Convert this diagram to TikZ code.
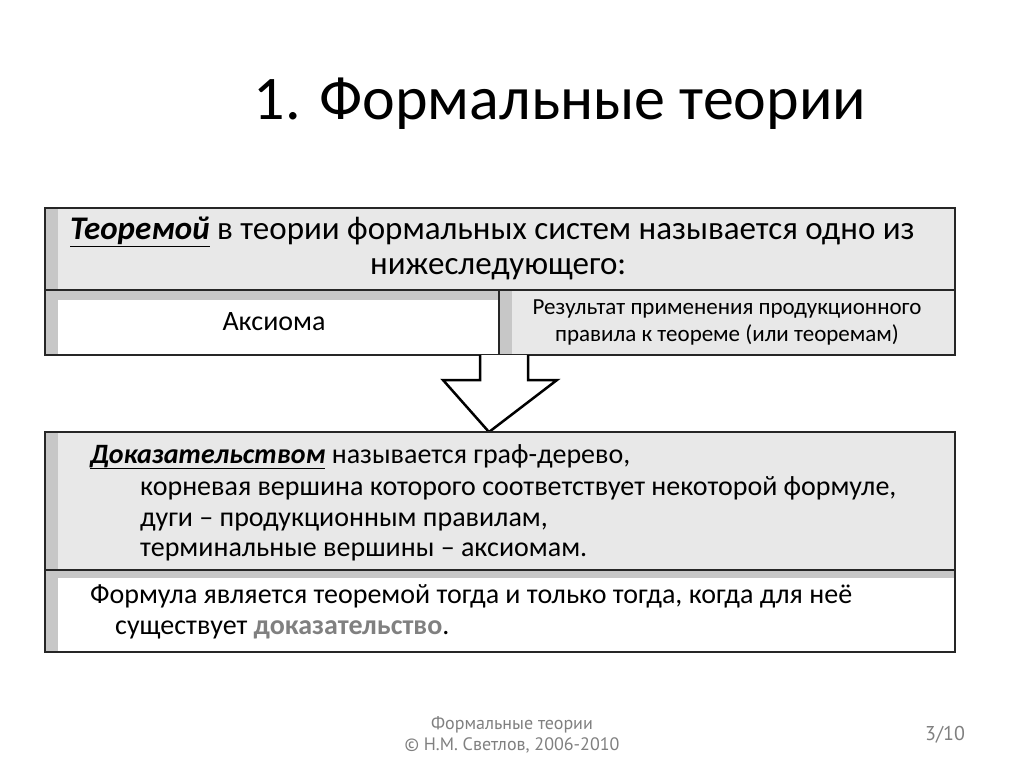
\documentclass[tikz,border=0pt]{standalone}
\usepackage{fontspec}
\setmainfont{Carlito}
\newfontfamily\footfont{PT Sans}
\tikzset{
  frame/.style={draw=black!85,line width=2.5pt},
  graycell/.style={fill=black!9},
  whitecell/.style={fill=white},
  txt/.style={inner sep=0pt,anchor=base west},
  foot/.style={inner sep=0pt,text=black!50,font=\footfont\fontsize{18}{21}\selectfont}
}
\begin{document}
\begin{tikzpicture}[x=1pt,y=-1pt]
\useasboundingbox (0,0) rectangle (1024,767);
\fill[white] (0,0) rectangle (1024,767);
\node[inner sep=0pt,font=\fontsize{62}{66}\selectfont] (title) at (560,104) {1. Формальные теории};
% top box
\path[graycell] (45,208) rectangle (955,290);
\path[whitecell] (45,290) rectangle (499,355);
\path[graycell] (499,290) rectangle (955,355);
\fill[black!22] (45,208) rectangle (58,290);
\fill[black!22] (45,290) rectangle (58,355);
\fill[black!22] (45,290) rectangle (499,300);
\fill[black!22] (499,290) rectangle (512,355);
\draw[frame] (45,208) rectangle (955,355);
\draw[frame] (45,290) -- (955,290);
\draw[frame] (499,290) -- (499,355);
\node[txt,font=\fontsize{33}{36}\selectfont] (t1) at (70,240) {\textbf{\textit{\underline{Теоремой}}} в теории формальных систем называется одно из};
\node[txt,font=\fontsize{33}{36}\selectfont] (t2) at (370,274) {нижеследующего:};
\node[inner sep=0pt,font=\fontsize{28}{32}\selectfont] (ax) at (274,322) {Аксиома};
\node[inner sep=0pt,align=center,font=\fontsize{23}{27}\selectfont] (res) at (727,322) {Результат применения продукционного\\правила к теореме (или теоремам)};
% arrow
\draw[line width=2.5pt,fill=white,line join=miter] (480,355) -- (480,380) -- (443,380) -- (489,432) -- (557,380) -- (528,380) -- (528,355);
% bottom box
\path[graycell] (45,432) rectangle (955,570);
\path[whitecell] (45,570) rectangle (955,652);
\fill[black!22] (45,432) rectangle (58,570);
\fill[black!22] (45,570) rectangle (58,652);
\fill[black!22] (45,570) rectangle (955,578);
\draw[frame] (45,432) rectangle (955,652);
\draw[frame] (45,570) -- (955,570);
\node[txt,font=\fontsize{28}{31}\selectfont] (b1) at (90,463) {\textbf{\textit{\underline{Доказательством}}} называется граф-дерево,};
\node[txt,font=\fontsize{28}{31}\selectfont] (b2) at (140,495) {корневая вершина которого соответствует некоторой формуле,};
\node[txt,font=\fontsize{28}{31}\selectfont] (b3) at (140,526) {дуги – продукционным правилам,};
\node[txt,font=\fontsize{28}{31}\selectfont] (b4) at (140,556) {терминальные вершины – аксиомам.};
\node[txt,font=\fontsize{28}{31}\selectfont] (c1) at (90,603) {Формула является теоремой тогда и только тогда, когда для неё};
\node[txt,font=\fontsize{28}{31}\selectfont] (c2) at (115,634) {существует \textbf{\textcolor{black!50}{доказательство}}.};
% footer
\node[foot,align=center] (f1) at (512,735) {Формальные теории\\© Н.М. Светлов, 2006-2010};
\node[foot,font=\footfont\fontsize{20}{23}\selectfont] (f2) at (945,735) {3/10};
\end{tikzpicture}
\end{document}
